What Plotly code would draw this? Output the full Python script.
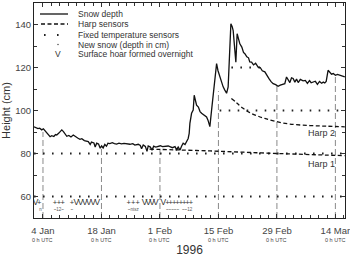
import pandas as pd
import plotly.graph_objects as go

# ---------------- data (days after 4 Jan 1996 0 h UTC) ----------------
snow_day = [-2.15, -1.7, -1.2, -0.8, -0.3, 0.1, 0.5, 1.0, 1.4, 1.7, 2.1, 2.6, 3.0, 3.3, 3.8, 4.2, 4.5,
            4.9, 5.3, 5.7, 6.2, 6.7, 7.25, 7.7, 8.3, 8.85, 9.3, 9.9, 10.4, 10.84, 11.3, 11.6, 12.2,
            12.5, 12.85, 13.3, 13.7, 14.04, 14.4, 14.8, 15.2, 15.55, 16.0, 16.6, 17.1, 17.63, 18.2,
            18.8, 19.4, 20.0, 20.81, 21.5, 22.0, 22.8, 23.3, 23.6, 24.0, 24.5, 24.9, 25.19, 25.7,
            26.1, 26.5, 27.0, 27.58, 28.1, 28.6, 29.2, 29.98, 30.5, 31.0, 31.6, 32.0, 32.37, 32.8,
            33.2, 33.56, 34.0, 34.4, 34.76, 35.0, 35.17, 35.57, 35.96, 36.2, 36.5, 36.77, 37.2, 37.6,
            37.97, 38.4, 38.8, 39.16, 39.5, 39.95, 40.36, 40.7, 40.98, 41.3, 41.56, 41.9, 42.34, 42.7,
            43.13, 43.5, 43.95, 44.33, 44.6, 44.74, 44.98, 45.3, 45.53, 45.8, 45.93, 46.17, 46.48,
            46.8, 47.13, 47.6, 48.0, 48.33, 48.8, 49.2, 49.5, 49.93, 50.4, 50.9, 51.5, 52.0, 52.5,
            53.11, 53.6, 54.1, 54.6, 55.1, 55.7, 56.29, 56.8, 57.3, 57.89, 58.3, 58.7, 59.1, 59.5,
            59.88, 60.3, 60.7, 61.1, 61.6, 62.27, 62.8, 63.3, 63.8, 64.2, 64.66, 65.2, 65.7, 66.2,
            66.7, 67.1, 67.46, 67.8, 68.25, 68.6, 69.07, 69.5, 70.0, 70.5, 71.05, 71.6, 72.25]
snow_depth = [92.4, 92.0, 91.6, 91.8, 91.0, 91.5, 90.6, 89.5, 88.6, 87.8, 88.3, 87.9, 88.8, 88.6, 89.5,
              90.4, 91.0, 90.2, 88.9, 88.0, 88.4, 87.7, 88.6, 87.9, 87.2, 86.6, 86.9, 86.0, 85.8, 85.5,
              84.2, 85.3, 84.9, 83.0, 84.8, 84.4, 82.5, 83.5, 82.6, 84.2, 83.4, 84.8, 84.6, 85.0, 84.6,
              84.4, 84.8, 84.5, 84.7, 84.4, 84.3, 84.6, 83.9, 84.3, 83.7, 82.2, 84.0, 83.3, 81.0, 83.5,
              83.0, 81.5, 83.4, 83.0, 83.2, 83.6, 83.2, 83.4, 83.5, 83.1, 82.7, 83.2, 81.8, 83.0, 81.6,
              83.5, 84.8, 84.2, 86.0, 87.0, 89.4, 94.0, 98.7, 100.2, 107.1, 104.5, 102.5, 101.6, 99.5,
              98.7, 98.0, 97.6, 97.0, 95.5, 92.5, 100.2, 106.5, 112.5, 117.5, 121.8, 118.5, 115.6, 113.6,
              111.0, 109.6, 108.0, 111.0, 122.0, 128.0, 140.3, 139.0, 137.2, 131.0, 128.0, 122.5, 135.7,
              133.5, 131.0, 129.5, 127.0, 126.4, 125.0, 124.5, 122.6, 122.5, 121.2, 122.0, 120.2, 120.0,
              118.5, 118.0, 116.2, 114.8, 113.4, 112.5, 112.0, 111.3, 111.8, 112.3, 112.5, 115.6, 114.2,
              113.0, 115.2, 114.9, 113.2, 114.6, 113.0, 114.5, 113.8, 114.0, 112.6, 113.9, 112.9, 113.3,
              113.6, 112.2, 113.5, 112.7, 113.2, 112.8, 113.5, 118.7, 117.8, 116.9, 117.2, 116.4, 116.8,
              116.4, 116.0, 115.6]

harp1_day = [25.5, 31.6, 40.0, 48.0, 56.0, 64.0, 72.25]
harp1_height = [82.0, 81.7, 81.2, 80.6, 80.0, 79.5, 79.0]
harp2_day = [45.1, 46.4, 47.9, 49.5, 51.3, 53.1, 55.5, 59.1, 63.9, 68.0, 72.25]
harp2_height = [105.6, 103.5, 101.0, 99.0, 97.5, 96.3, 95.0, 93.7, 93.0, 92.7, 92.4]

sensor_height = [60, 80, 100, 120]
sensor_from = [-2.15, -2.15, 42.3, 45.1]
sensor_to = [72.25, 72.25, 72.25, 52.2]

obs_day = [0, 14, 28, 42, 56, 70]
obs_top = [90.0, 83.5, 81.7, 109.0, 112.0, 116.0]
tick_labels = ["4 Jan", "18 Jan", "1 Feb", "15 Feb", "29 Feb", "14 Mar"]

hoar_day = [-1.8, 8, 9, 10, 11, 12, 13, 24.3, 25.2, 26.1, 27.0, 28.8]
newsnow_day = [-0.9, 2.87, 3.83, 4.71, 6.94, 20.5, 21.6, 22.7,
               29.8, 30.6, 31.4, 32.2, 33.0, 33.8, 34.6, 35.4]
newsnow_note_day = [-0.6, 3.8, 6.9, 21.6, 31.0, 34.5]
newsnow_note = ["n", "~12~", "~", "~ntsz", "~~~~~", "~~12"]

# ---------------- build ----------------
base = pd.Timestamp("1996-01-04")


def to_date(days):
    return list(base + pd.to_timedelta(pd.Series(days, dtype=float), unit="D"))


fig = go.Figure()

# observation verticals
for d, top in zip(obs_day, obs_top):
    fig.add_trace(go.Scatter(x=to_date([d, d]), y=[50, top], mode="lines",
                             line=dict(color="#8a8a8a", width=1, dash="6px,3px"),
                             hoverinfo="skip", showlegend=False))

# fixed temperature sensors
for h, a, b in zip(sensor_height, sensor_from, sensor_to):
    fig.add_trace(go.Scatter(x=to_date([a, b]), y=[h, h], mode="lines",
                             line=dict(color="#222", width=2, dash="1.6px,7.4px"),
                             hoverinfo="skip", showlegend=False))

# harp sensors
fig.add_trace(go.Scatter(x=to_date(harp1_day), y=harp1_height, mode="lines",
                         line=dict(color="#111", width=1.3, dash="4px,2.5px", shape="spline"),
                         showlegend=False))
fig.add_trace(go.Scatter(x=to_date(harp2_day), y=harp2_height, mode="lines",
                         line=dict(color="#111", width=1.3, dash="4px,2.5px", shape="spline"),
                         showlegend=False))

# snow depth
fig.add_trace(go.Scatter(x=to_date(snow_day), y=snow_depth, mode="lines",
                         line=dict(color="#111", width=1.3), showlegend=False))

# surface hoar and new snow symbols
fig.add_trace(go.Scatter(x=to_date(hoar_day), y=[57.2] * len(hoar_day), mode="text",
                         text=["V"] * len(hoar_day),
                         textfont=dict(family="Liberation Sans", size=8.5, color="#333"),
                         showlegend=False))
fig.add_trace(go.Scatter(x=to_date(newsnow_day), y=[57.0] * len(newsnow_day), mode="text",
                         text=["+"] * len(newsnow_day),
                         textfont=dict(family="Liberation Sans", size=7.5, color="#333"),
                         showlegend=False))
fig.add_trace(go.Scatter(x=to_date(newsnow_note_day), y=[53.6] * len(newsnow_note_day), mode="text",
                         text=newsnow_note,
                         textfont=dict(family="Liberation Sans", size=4.5, color="#555"),
                         showlegend=False))

# Harp labels
for txt, yv in [("Harp 2", 92.6), ("Harp 1", 78.4)]:
    fig.add_annotation(x=to_date([70.3])[0], y=yv, text=txt, showarrow=False, xanchor="right",
                       yanchor="top", font=dict(family="Liberation Sans", size=9, color="#333"))

# "0 h UTC" under each date tick
for d in obs_day:
    fig.add_annotation(x=to_date([d])[0], y=-0.081, xref="x", yref="paper", text="0 h UTC",
                       showarrow=False, yanchor="top",
                       font=dict(family="Liberation Sans", size=5.5, color="#444"))

# manual legend (paper coordinates)
W, H, L, T = 311, 215, 34, 3


def px(x):
    return (x - L) / W


def py(y):
    return 1 - (y - T) / H


leg_rows = [14, 24, 35, 44.5, 54]
leg_text = ["Snow depth", "Harp sensors", "Fixed temperature sensors",
            "New snow (depth in cm)", "Surface hoar formed overnight"]
for yy, t in zip(leg_rows, leg_text):
    fig.add_annotation(x=px(76), y=py(yy), xref="paper", yref="paper", text=t, showarrow=False,
                       xanchor="left", yanchor="middle",
                       font=dict(family="Liberation Sans", size=8.5, color="#333"))
fig.add_shape(type="line", xref="paper", yref="paper", x0=px(40), x1=px(68),
              y0=py(leg_rows[0]), y1=py(leg_rows[0]), line=dict(color="#111", width=1.3))
fig.add_shape(type="line", xref="paper", yref="paper", x0=px(41), x1=px(68),
              y0=py(leg_rows[1]), y1=py(leg_rows[1]), line=dict(color="#111", width=1.3, dash="4px,2.5px"))
fig.add_shape(type="line", xref="paper", yref="paper", x0=px(44), x1=px(59),
              y0=py(leg_rows[2]), y1=py(leg_rows[2]), line=dict(color="#222", width=2, dash="1.6px,11.4px"))
fig.add_shape(type="circle", xref="paper", yref="paper", x0=px(57.3), x1=px(58.7),
              y0=py(leg_rows[3] + 0.7), y1=py(leg_rows[3] - 0.7),
              line=dict(width=0), fillcolor="#333")
fig.add_annotation(x=px(57.5), y=py(leg_rows[4]), xref="paper", yref="paper", text="V",
                   showarrow=False, xanchor="center", yanchor="middle",
                   font=dict(family="Liberation Sans", size=8.5, color="#333"))

fig.update_layout(
    width=350, height=257,
    margin=dict(l=34, r=5, t=3, b=39, autoexpand=False),
    paper_bgcolor="white", plot_bgcolor="white",
    font=dict(family="Liberation Sans", color="#333"),
    showlegend=False,
)
fig.update_xaxes(
    range=to_date([-2.15, 72.3]), automargin=False,
    tickmode="array", tickvals=to_date(obs_day), ticktext=tick_labels,
    ticks="inside", ticklen=4, tickcolor="#333", mirror="allticks",
    showline=True, linecolor="#222", linewidth=1, showgrid=False, zeroline=False,
    tickfont=dict(family="Liberation Sans", size=9.5, color="#444"),
    ticklabelstandoff=4, ticklabeloverflow="allow",
    minor=dict(tickmode="linear", tick0=base, dtick=2 * 86400000, ticks="inside",
               ticklen=3, tickcolor="#333", showgrid=False),
    title=dict(text="1996", font=dict(family="Liberation Sans", size=12, color="#333"), standoff=12),
)
fig.update_yaxes(
    range=[50, 150], tickvals=[60, 80, 100, 120, 140], automargin=False,
    ticks="inside", ticklen=4, tickcolor="#333", mirror="allticks",
    showline=True, linecolor="#222", linewidth=1, showgrid=False, zeroline=False,
    tickfont=dict(family="Liberation Sans", size=9.5, color="#444"),
    minor=dict(dtick=10, ticks="inside", ticklen=3, tickcolor="#333", showgrid=False),
    title=dict(text="Height (cm)", font=dict(family="Liberation Sans", size=11, color="#333"), standoff=4),
)

fig.write_html("out.html", config={"displayModeBar": False},
               post_script="document.body.style.margin='0';document.body.style.overflow='hidden';")
